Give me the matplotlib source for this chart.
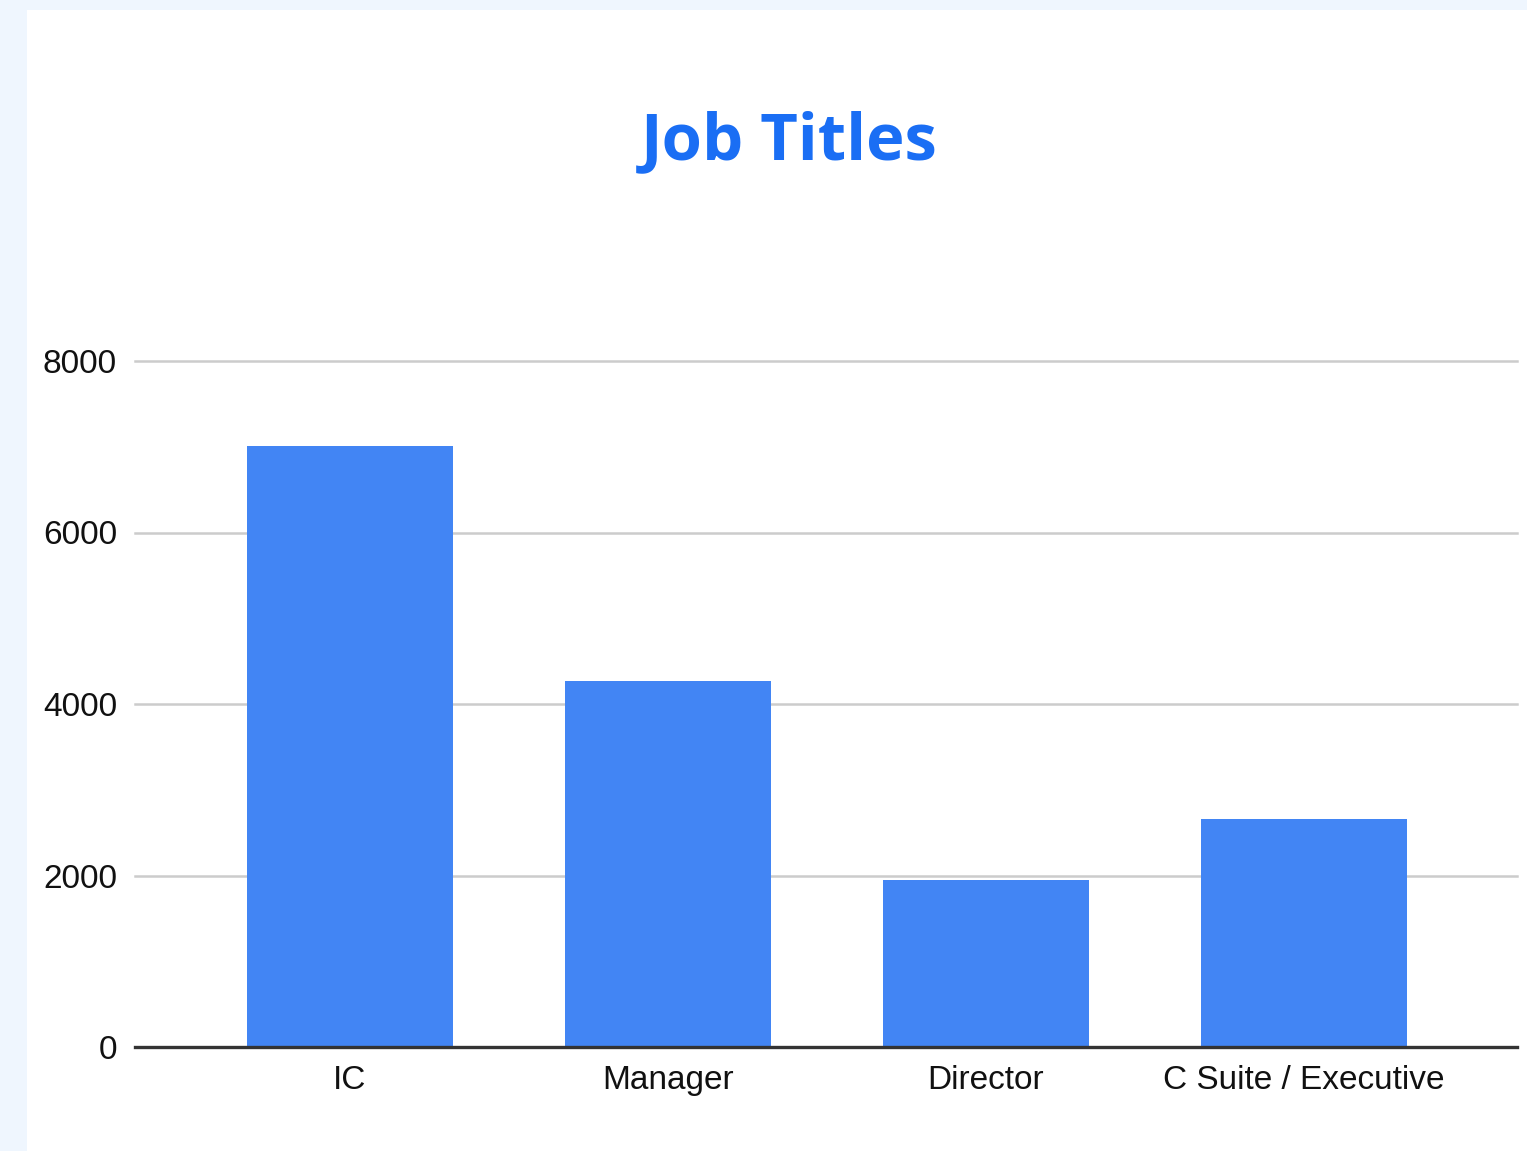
import matplotlib.pyplot as plt
from matplotlib.patches import Rectangle

CATEGORIES = ["IC", "Manager", "Director", "C Suite / Executive"]
COUNTS = [7010, 4270, 1950, 2660]
Y_TICKS = [0, 2000, 4000, 6000, 8000]

BAR_COLOR = "#4285f4"
TITLE_COLOR = "#1a6ef4"
PAGE_COLOR = "#eff6fe"


def main() -> None:
	fig = plt.figure(figsize=(15.27, 11.51), dpi=100)
	fig.patch.set_facecolor(PAGE_COLOR)
	# white card behind the chart
	fig.add_artist(Rectangle((27 / 1527, 0), 1, 1 - 10 / 1151,
		transform=fig.transFigure, facecolor="white", edgecolor="none", zorder=0))

	ax = fig.add_axes([135 / 1527, 1 - 1047 / 1151, (1517 - 135) / 1527, (1047 - 361) / 1151])
	ax.set_facecolor("none")

	positions = range(len(CATEGORIES))
	ax.bar(positions, COUNTS, width=0.648, color=BAR_COLOR, zorder=2)

	ax.set_xlim(-0.676, 3.67)
	ax.set_ylim(0, 8000)
	ax.set_yticks(Y_TICKS)
	ax.set_xticks(list(positions))
	ax.set_xticklabels(CATEGORIES)

	for value in Y_TICKS[1:]:
		ax.axhline(value, color="#cccccc", linewidth=1.8, zorder=1, clip_on=False)
	ax.axhline(0, color="#333333", linewidth=2.4, zorder=3, clip_on=False)

	for spine in ax.spines.values():
		spine.set_visible(False)
	ax.tick_params(axis="both", length=0, labelsize=24, labelcolor="#111111")
	ax.tick_params(axis="y", pad=13)
	ax.tick_params(axis="x", pad=13)
	for label in ax.get_xticklabels() + ax.get_yticklabels():
		label.set_fontfamily("Liberation Sans")

	fig.text(789 / 1527, 1 - 143 / 1151, "Job Titles", ha="center", va="center",
		fontsize=47, fontweight="bold", color=TITLE_COLOR, family="Open Sans")

	fig.savefig("out.png", dpi=100, facecolor=fig.get_facecolor())


if __name__ == "__main__":
	main()
